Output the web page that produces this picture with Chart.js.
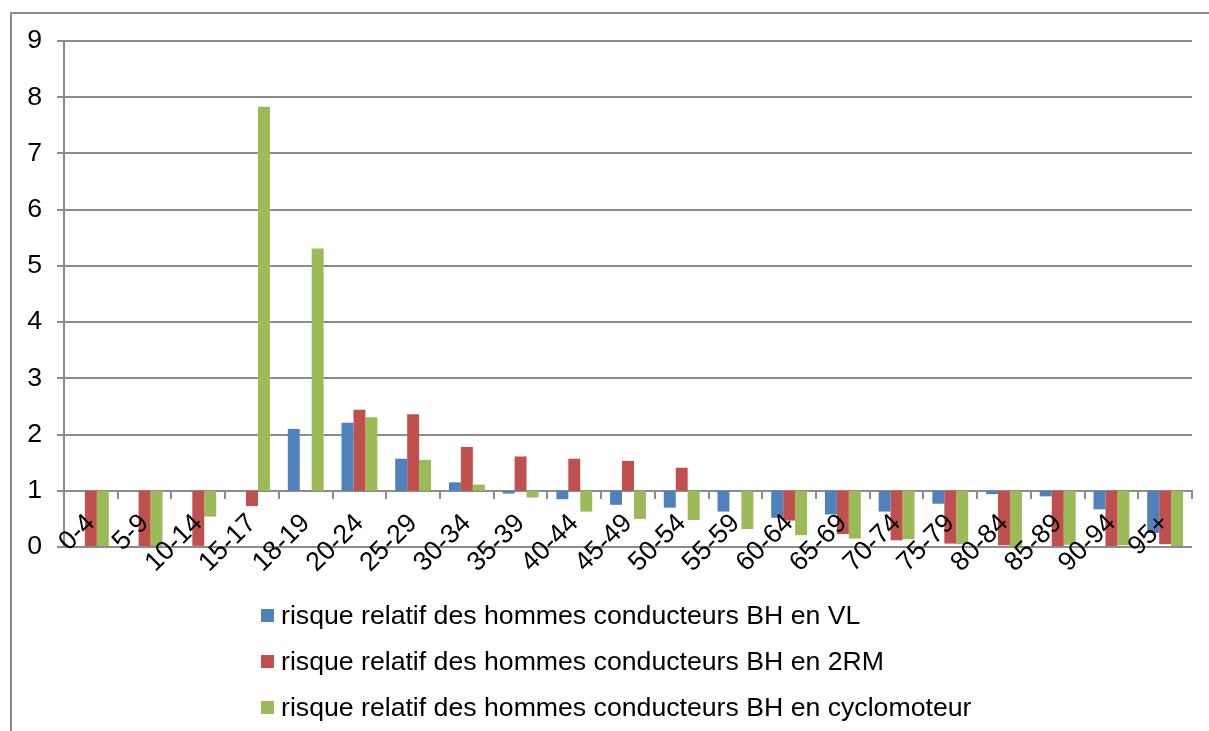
<!DOCTYPE html>
<html>
<head>
<meta charset="utf-8">
<script src="https://cdn.jsdelivr.net/npm/chart.js@4"></script>
<style>
  html, body { margin: 0; padding: 0; background: #fff; overflow: hidden; }
  #frame {
    position: absolute; left: 10px; top: 12px; width: 1300px; height: 800px;
    border-left: 2px solid #8c8c8c; border-top: 2px solid #8c8c8c;
  }
  #wrap { position: absolute; left: 0; top: 0; width: 1209px; height: 600px; }
  #legend {
    position: absolute; left: 261px; top: 592px;
    font-family: "Liberation Sans", Arial, sans-serif; font-size: 26.67px; color: #000;
  }
  #legend .item { display: flex; align-items: center; height: 46px; }
  #legend .box { width: 13px; height: 13px; margin-right: 7px; }
</style>
</head>
<body>
<div id="frame"></div>
<div id="wrap"><canvas id="chart" width="1209" height="600"></canvas></div>
<div id="legend"></div>
<script>
// age groups
const labels = ['0-4', '5-9', '10-14', '15-17', '18-19', '20-24', '25-29', '30-34', '35-39', '40-44',
  '45-49', '50-54', '55-59', '60-64', '65-69', '70-74', '75-79', '80-84', '85-89', '90-94', '95+'];

// relative risk, men drivers BH (null = no bar)
const vl = [null, null, null, null, 2.10, 2.21, 1.57, 1.15, 0.95, 0.85,
  0.75, 0.70, 0.63, 0.52, 0.58, 0.63, 0.77, 0.94, 0.90, 0.67, 0.25];
const deuxRM = [0.0, 0.0, 0.02, 0.73, null, 2.44, 2.36, 1.78, 1.61, 1.57,
  1.53, 1.41, null, 0.47, 0.23, 0.12, 0.06, 0.03, 0.0, 0.0, 0.05];
const cyclo = [0.0, 0.0, 0.54, 7.83, 5.31, 2.31, 1.55, 1.11, 0.88, 0.63,
  0.50, 0.48, 0.32, 0.21, 0.15, 0.14, 0.05, 0.01, 0.04, 0.03, 0.0];

const seriesNames = [
  'risque relatif des hommes conducteurs BH en VL',
  'risque relatif des hommes conducteurs BH en 2RM',
  'risque relatif des hommes conducteurs BH en cyclomoteur'
];
const colors = ['#4f81bd', '#c0504d', '#9bbb59'];

const yTicks = [0, 1, 2, 3, 4, 5, 6, 7, 8, 9];
const baseLine = 1; // bars start from 1 (axis crossing)

// bars float between the crossing value and the data value
const fromBase = arr => arr.map(v => v == null ? null : [baseLine, v]);

const gridGray = '#8c8c8c';
const font = { family: '"Liberation Sans", Arial, sans-serif', size: 26.67 };

const htmlLegend = {
  id: 'htmlLegend',
  afterUpdate(chart) {
    const el = document.getElementById('legend');
    el.innerHTML = '';
    chart.data.datasets.forEach(ds => {
      const item = document.createElement('div');
      item.className = 'item';
      const box = document.createElement('span');
      box.className = 'box';
      box.style.background = ds.backgroundColor;
      const txt = document.createElement('span');
      txt.textContent = ds.label;
      item.appendChild(box);
      item.appendChild(txt);
      el.appendChild(item);
    });
  }
};

const ctx = document.getElementById('chart').getContext('2d');
new Chart(ctx, {
  type: 'bar',
  data: {
    labels: labels,
    datasets: [
      { label: seriesNames[0], data: fromBase(vl), backgroundColor: colors[0] },
      { label: seriesNames[1], data: fromBase(deuxRM), backgroundColor: colors[1] },
      { label: seriesNames[2], data: fromBase(cyclo), backgroundColor: colors[2] }
    ]
  },
  options: {
    responsive: false,
    animation: false,
    layout: { padding: { left: 10, right: 17, top: 41, bottom: 53 } },
    datasets: { bar: { categoryPercentage: 0.667, barPercentage: 1.0, borderWidth: 0 } },
    plugins: {
      legend: { display: false },
      tooltip: { enabled: false }
    },
    scales: {
      x: {
        position: { y: baseLine },
        grid: {
          offset: true, drawOnChartArea: false, drawTicks: true,
          tickLength: 7, color: gridGray, lineWidth: 2
        },
        border: { display: true, color: gridGray, width: 2 },
        ticks: {
          z: 1, // labels sit on top of the bars
          autoSkip: false, minRotation: 45, maxRotation: 45,
          padding: 10, color: '#000', font: font
        }
      },
      y: {
        min: 0, max: 9,
        afterBuildTicks(scale) { scale.ticks = yTicks.map(v => ({ value: v })); },
        afterFit(scale) { scale.width = 54; },
        grid: { color: gridGray, lineWidth: 2, drawTicks: true, tickLength: 7 },
        border: { display: true, color: gridGray, width: 2 },
        ticks: { padding: 15, color: '#000', font: font }
      }
    }
  },
  plugins: [htmlLegend]
});
</script>
</body>
</html>
